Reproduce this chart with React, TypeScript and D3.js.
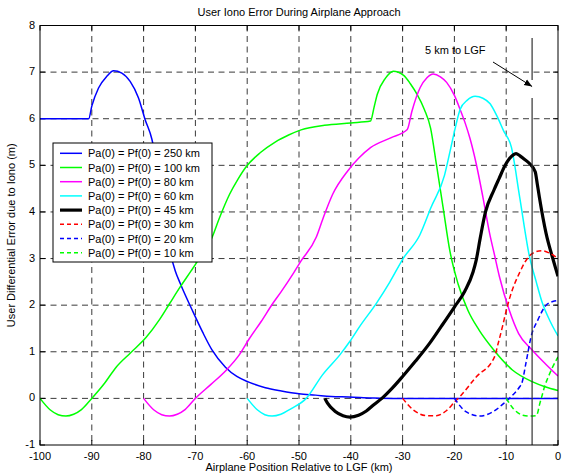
import React from "react";
import * as d3 from "d3";

type Pt = [number, number];

const title = "User Iono Error During Airplane Approach";
const xLabel = "Airplane Position Relative to LGF (km)";
const yLabel = "User Differential Error due to Iono (m)";
const annotationText = "5 km to LGF";
const markerKm = -5;

const xTicks = [-100, -90, -80, -70, -60, -50, -40, -30, -20, -10, 0];
const yTicks = [-1, 0, 1, 2, 3, 4, 5, 6, 7, 8];

const s250: Pt[] = [[-100,6],[-90.6,6],[-90.0,6.27],[-88.7,6.66],[-87.1,6.91],[-85.8,7.03],[-84.2,6.98],[-82.6,6.8],[-81,6.45],[-79.7,5.98],[-78.4,5.56],[-77.5,5.04],[-76.3,4.1],[-75,3.2],[-73.9,2.74],[-72.9,2.46],[-70.6,1.89],[-68.6,1.42],[-66.8,1.04],[-64.2,0.67],[-62,0.47],[-59.7,0.35],[-56.5,0.23],[-53.4,0.16],[-50,0.1],[-46.8,0.07],[-43.8,0.04],[-40.4,0.03],[-36,0.01],[-32,0],[0,0]];

const s100: Pt[] = [[-100,0],[-98,-0.25],[-96.5,-0.35],[-95,-0.38],[-93.5,-0.34],[-92,-0.24],[-90,0],[-87.5,0.33],[-85.3,0.67],[-82.5,0.98],[-79.5,1.31],[-77,1.68],[-75,2.03],[-73,2.38],[-70.8,2.74],[-68.8,3.08],[-66.8,3.45],[-65.4,3.86],[-63.4,4.38],[-61.8,4.7],[-60.2,4.97],[-57.5,5.27],[-54.6,5.5],[-52,5.65],[-49.6,5.76],[-45.1,5.86],[-40,5.91],[-36.2,5.95],[-35.5,6.25],[-34.9,6.52],[-33.3,6.87],[-31.8,7.02],[-29.8,6.93],[-28.5,6.75],[-27.2,6.52],[-25.8,6.2],[-24.6,5.8],[-23.5,5.04],[-22.2,4.11],[-20.9,3.18],[-19.3,2.46],[-17.4,1.89],[-15.2,1.46],[-12.4,1.04],[-8.8,0.61],[-5,0.36],[-2.5,0.25],[0,0.17]];

const s80: Pt[] = [[-80,0],[-78,-0.25],[-76.5,-0.35],[-75,-0.38],[-73.5,-0.34],[-72,-0.24],[-70,0],[-67,0.3],[-64.1,0.6],[-61.5,0.94],[-59.6,1.28],[-57.3,1.65],[-55.1,2.03],[-53.5,2.28],[-51,2.7],[-49.6,2.95],[-46.7,3.45],[-45.4,3.85],[-43.5,4.38],[-40.6,4.88],[-38.5,5.15],[-36.2,5.38],[-32.3,5.59],[-29.1,5.77],[-28.2,6.16],[-26.6,6.67],[-25.3,6.88],[-24.1,6.96],[-22.7,6.9],[-21.5,6.78],[-20,6.5],[-18.9,6.2],[-17.9,5.9],[-17,5.58],[-15.8,5.04],[-14.5,4.32],[-13.2,3.54],[-12.2,3.05],[-11.3,2.61],[-9.4,1.89],[-7.6,1.39],[-5,1.04],[-2.5,0.75],[0,0.48]];

const s60: Pt[] = [[-60,0],[-58,-0.25],[-56.6,-0.35],[-55.2,-0.38],[-53.5,-0.34],[-51.5,-0.22],[-48.6,0],[-45.5,0.5],[-42,0.95],[-40.2,1.22],[-38.3,1.54],[-35,2.05],[-32.5,2.49],[-29.9,3.0],[-26.7,3.5],[-24.5,4.1],[-21.9,4.79],[-20.8,5.32],[-19.8,5.82],[-18.9,6.2],[-17.5,6.4],[-16,6.48],[-14.5,6.44],[-13.1,6.32],[-11.8,6.06],[-10.5,5.74],[-9.0,5.39],[-7.4,4.32],[-5.5,3.04],[-4.2,2.5],[-3.0,2.04],[-1.5,1.65],[0,1.34]];

const s45: Pt[] = [[-45,0],[-44.5,-0.1],[-43,-0.28],[-41.5,-0.37],[-40.2,-0.4],[-38.5,-0.36],[-37,-0.27],[-35.5,-0.13],[-34,0],[-32,0.22],[-30,0.47],[-27.5,0.8],[-24.8,1.18],[-22.5,1.55],[-20,1.96],[-18,2.3],[-16.4,2.71],[-15.8,2.96],[-15,3.45],[-14,4.0],[-12.4,4.46],[-11.4,4.71],[-10.2,5.0],[-9.4,5.14],[-8.7,5.22],[-8.1,5.25],[-7.4,5.21],[-6.5,5.13],[-5.5,5.04],[-4.4,4.86],[-4.0,4.6],[-3.6,4.32],[-2.3,3.54],[-1.0,3.0],[0,2.62]];

const s30: Pt[] = [[-30,0],[-27.9,-0.25],[-25.4,-0.37],[-23.5,-0.37],[-21.5,-0.26],[-19.9,-0.07],[-19,0.03],[-15.8,0.46],[-12.3,0.88],[-11.5,1.2],[-10.7,1.55],[-10,1.88],[-9.2,2.2],[-8.4,2.45],[-7.4,2.7],[-6.4,2.92],[-5.5,3.06],[-4.4,3.14],[-3.2,3.17],[-1.7,3.12],[0,3.0]];

const s20: Pt[] = [[-20,0],[-17.7,-0.29],[-15.1,-0.38],[-12.6,-0.29],[-10.1,-0.07],[-9.4,0],[-7.4,0.25],[-7.0,0.32],[-6.2,0.75],[-5.2,1.32],[-3.9,1.68],[-2.3,2.0],[-1.0,2.08],[0,2.1]];

const s10: Pt[] = [[-10,0],[-8.7,-0.21],[-6.8,-0.36],[-5.5,-0.38],[-4.2,-0.37],[-3.9,-0.3],[-3.6,-0.15],[-3.1,0.05],[-2.6,0.25],[-1.8,0.48],[-1,0.68],[0,0.89]];

const seriesLabels = [
  "Pa(0) = Pf(0) = 250 km",
  "Pa(0) = Pf(0) = 100 km",
  "Pa(0) = Pf(0) = 80 km",
  "Pa(0) = Pf(0) = 60 km",
  "Pa(0) = Pf(0) = 45 km",
  "Pa(0) = Pf(0) = 30 km",
  "Pa(0) = Pf(0) = 20 km",
  "Pa(0) = Pf(0) = 10 km",
];
const seriesData = [s250, s100, s80, s60, s45, s30, s20, s10];
const seriesColors = ["#0000ff", "#00ff00", "#ff00ff", "#00ffff", "#000000", "#ff0000", "#0000ff", "#00ff00"];
const seriesWidths = [1.5, 1.5, 1.5, 1.5, 3.2, 1.5, 1.5, 1.5];
const seriesDash = [null, null, null, null, null, "5,3", "5,3", "5,3"];

const W = 569;
const H = 476;
const L = 40, R = 558, T = 25.5, B = 445;
const FONT = "Arial, 'Liberation Sans', sans-serif";

export default function App() {
  const x = d3.scaleLinear().domain([-100, 0]).range([L, R]);
  const y = d3.scaleLinear().domain([-1, 8]).range([B, T]);
  const line = d3.line<Pt>().x((d) => x(d[0])).y((d) => y(d[1])).curve(d3.curveMonotoneX);

  const gridColor = "#3a3a3a";
  const legX = 53, legY = 143, legW = 159, legH = 119;
  const rowH = 14.2;

  const mx = x(markerKm);

  return (
    <svg width={W} height={H} style={{ position: "absolute", left: 0, top: 0, background: "#fff" }} fontFamily={FONT}>
      <rect x={0} y={0} width={W} height={H} fill="#fff" />
      {/* grid */}
      {xTicks.slice(1, -1).map((t) => (
        <line key={"gx" + t} x1={x(t)} x2={x(t)} y1={T} y2={B} stroke={gridColor} strokeWidth={1} strokeDasharray="6,4.5" />
      ))}
      {yTicks.slice(1, -1).map((t) => (
        <line key={"gy" + t} x1={L} x2={R} y1={y(t)} y2={y(t)} stroke={gridColor} strokeWidth={1} strokeDasharray="6,4.5" />
      ))}
      {/* ticks inside */}
      {xTicks.map((t) => (
        <g key={"tx" + t}>
          <line x1={x(t)} x2={x(t)} y1={B} y2={B - 5} stroke="#000" />
          <line x1={x(t)} x2={x(t)} y1={T} y2={T + 5} stroke="#000" />
          <text x={x(t)} y={B + 15} fontSize={11} textAnchor="middle">{t}</text>
        </g>
      ))}
      {yTicks.map((t) => (
        <g key={"ty" + t}>
          <line x1={L} x2={L + 5} y1={y(t)} y2={y(t)} stroke="#000" />
          <line x1={R} x2={R - 5} y1={y(t)} y2={y(t)} stroke="#000" />
          <text x={L - 5} y={y(t) + 3} fontSize={11} textAnchor="end">{t}</text>
        </g>
      ))}
      {/* series */}
      <g clipPath="url(#plotclip)">
        {seriesData.map((d, i) => (
          <path key={"s" + i} d={line(d) || ""} fill="none" stroke={seriesColors[i]} strokeWidth={seriesWidths[i]}
            strokeDasharray={seriesDash[i] || undefined} strokeLinejoin="round" />
        ))}
      </g>
      <defs>
        <clipPath id="plotclip">
          <rect x={L} y={T - 2} width={R - L} height={B - T + 4} />
        </clipPath>
        <marker id="arrowhead" viewBox="0 0 10 10" refX={10} refY={5} markerWidth={8} markerHeight={8} markerUnits="userSpaceOnUse" orient="auto">
          <path d="M0,1 L10,5 L0,9 Z" fill="#000" />
        </marker>
      </defs>
      {/* marker line at 5 km */}
      <line x1={mx} x2={mx} y1={38} y2={80} stroke="#333" strokeWidth={1.2} />
      <line x1={mx} x2={mx} y1={98} y2={B} stroke="#333" strokeWidth={1.2} />
      <line x1={493} y1={62} x2={mx} y2={86.5} stroke="#000" strokeWidth={1} markerEnd="url(#arrowhead)" />
      <text x={425} y={53.5} fontSize={11}>{annotationText}</text>
      {/* axes box */}
      <rect x={L} y={T} width={R - L} height={B - T} fill="none" stroke="#000" strokeWidth={1} />
      {/* legend */}
      <rect x={legX} y={legY} width={legW} height={legH} fill="#fff" stroke="#000" strokeWidth={1} />
      {seriesLabels.map((lab, i) => {
        const cy = legY + 10.3 + i * rowH;
        return (
          <g key={"l" + i}>
            <line x1={60} x2={82} y1={cy} y2={cy} stroke={seriesColors[i]} strokeWidth={seriesWidths[i]}
              strokeDasharray={seriesDash[i] ? "4,3" : undefined} />
            <text x={88} y={cy + 4} fontSize={11}>{lab}</text>
          </g>
        );
      })}
      {/* titles */}
      <text x={(L + R) / 2} y={16} fontSize={11} textAnchor="middle">{title}</text>
      <text x={(L + R) / 2} y={471} fontSize={11} textAnchor="middle">{xLabel}</text>
      <text transform={`translate(15,${(T + B) / 2}) rotate(-90)`} fontSize={11} textAnchor="middle">{yLabel}</text>
    </svg>
  );
}
